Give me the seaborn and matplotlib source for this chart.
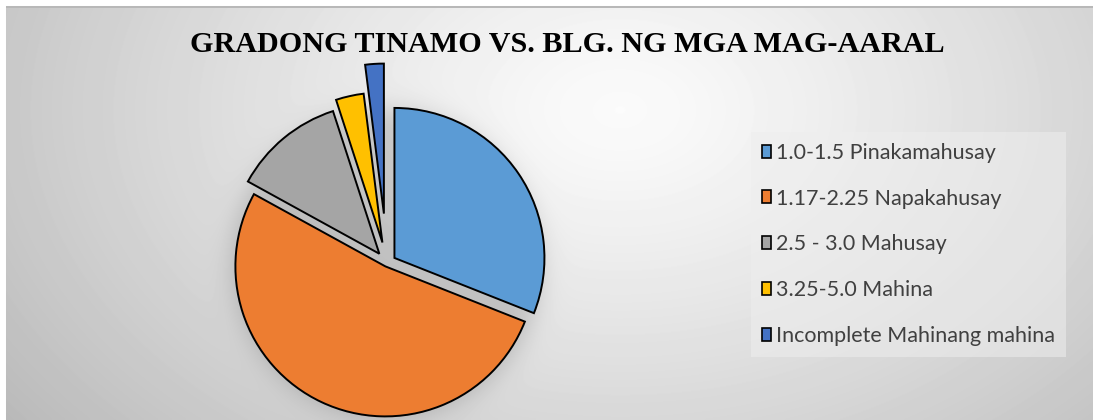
import numpy as np
import matplotlib
matplotlib.use("Agg")
import matplotlib.pyplot as plt
import seaborn as sns
from matplotlib.patches import Patch

# ---- data ----
categories = ["1.0-1.5 Pinakamahusay", "1.17-2.25 Napakahusay", "2.5 - 3.0 Mahusay",
              "3.25-5.0 Mahina", "Incomplete Mahinang mahina"]
values = [31, 52, 12, 3, 2]
title = "GRADONG TINAMO VS. BLG. NG MGA MAG-AARAL"

# ---- style ----
colors = ["#5B9BD5", "#ED7D31", "#A5A5A5", "#FFC000", "#4472C4"]
explode = [0.06, 0.025, 0.08, 0.14, 0.33]

sns.set_theme(style="white")
plt.rcParams['font.family'] = ['Lato', 'DejaVu Sans']

W, H, DPI = 1093, 420, 100
fig = plt.figure(figsize=(W / DPI, H / DPI), dpi=DPI)

# background gradient with soft shadow under the pie
cx, cy, R = 387, 263, 150
yy, xx = np.mgrid[0:H, 0:W]
d = np.sqrt(((xx - 620) / 620.) ** 2 + ((yy - 110) / 420.) ** 2)
bg = 0.985 - 0.2 * np.clip(d, 0, 1.3) ** 1.2
r = np.hypot(xx - cx, yy - cy)
bg -= 0.14 / (1 + np.exp((r - (R + 5)) / 7.))
bg[:6, :] = 1.0
bg[6:8, :] = 0.72
bg[:, :6] = 1.0
bgax = fig.add_axes([0, 0, 1, 1], zorder=-10)
bgax.imshow(bg, cmap="gray", vmin=0, vmax=1, aspect="auto", interpolation="bilinear")
bgax.axis("off")

# pie axes
L = 1.4
S = 2 * L * R
ax = fig.add_axes([(cx - S / 2) / W, (H - cy - S / 2) / H, S / W, S / H])
wedges, _ = ax.pie(values, colors=colors, explode=explode, startangle=90, counterclock=False,
                   wedgeprops=dict(edgecolor="black", linewidth=1.4))
for w in wedges:
    w.set_clip_on(False)
ax.set_xlim(-L, L)
ax.set_ylim(-L, L)
ax.set_aspect("equal")
ax.patch.set_visible(False)
ax.axis("off")

fig.text(567 / W, 1 - 45 / H, title, ha="center", va="center", fontsize=21.7,
         fontweight="bold", family=["Liberation Serif", "DejaVu Serif"], color="black")

handles = [Patch(facecolor=c, edgecolor="black", linewidth=1.2) for c in colors]
leg = fig.legend(handles, categories, loc="upper left", bbox_to_anchor=(751 / W, 1 - 132 / H),
                 fontsize=15.5, labelcolor="#404040", frameon=True, fancybox=False,
                 facecolor="#eeeeee", edgecolor="none", framealpha=0.55,
                 handlelength=0.45, handleheight=0.55, handletextpad=0.2,
                 labelspacing=1.2, borderpad=0.5, borderaxespad=0)

fig.savefig("out.png", dpi=DPI)
